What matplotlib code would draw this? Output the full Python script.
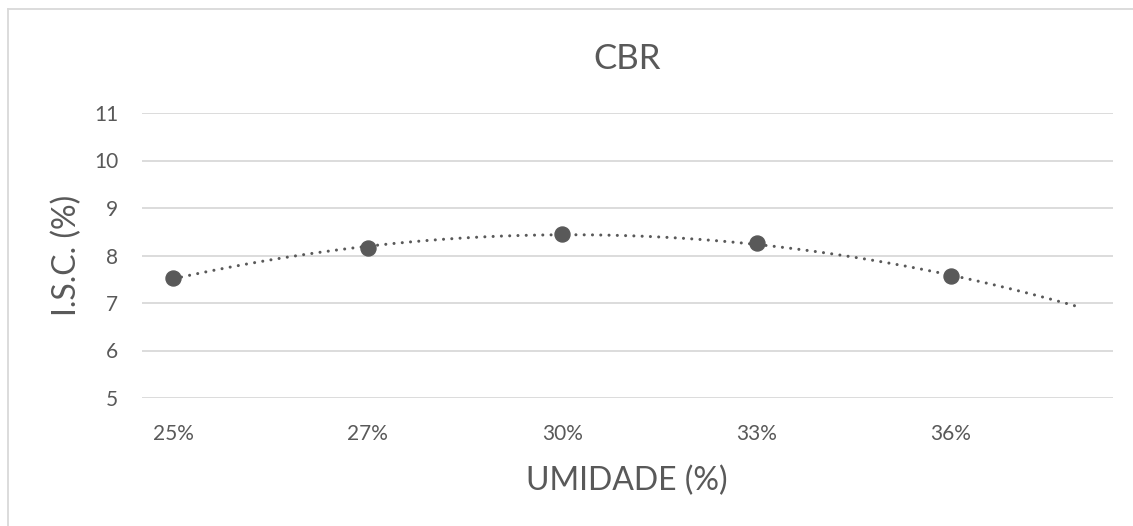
import numpy as np
import matplotlib
matplotlib.use("Agg")
import matplotlib.pyplot as plt
from matplotlib.lines import Line2D

# Data
categories = ["25%", "27%", "30%", "33%", "36%"]
isc_values = [7.53, 8.15, 8.45, 8.26, 7.57]
y_ticks = [5, 6, 7, 8, 9, 10, 11]

TEXT = "#595959"
GRID = "#d9d9d9"
MARK = "#595959"

plt.rcParams["font.family"] = ["Lato", "DejaVu Sans"]

W, H, DPI = 1133, 526, 100
fig = plt.figure(figsize=(W / DPI, H / DPI), dpi=DPI)
fig.patch.set_facecolor("white")

# chart frame (top and left edges)
fig.add_artist(Line2D([7.5 / W, 7.5 / W], [0, 1 - 8.5 / H], transform=fig.transFigure,
                      color=GRID, lw=1.3))
fig.add_artist(Line2D([7.5 / W, 1], [1 - 8.5 / H, 1 - 8.5 / H], transform=fig.transFigure,
                      color=GRID, lw=1.3))

left, right = 141.7 / W, 1112.7 / W
bottom, top = 1 - 398 / H, 1 - 113 / H
ax = fig.add_axes([left, bottom, right - left, top - bottom])

x = np.arange(1, len(categories) + 1)

# 2nd order polynomial trendline with forward forecast
coef = np.polyfit(x, isc_values, 2)
xt = np.linspace(1, 5.66, 200)
ax.plot(xt, np.polyval(coef, xt), color=MARK, lw=2.2,
        linestyle=(0, (0.01, 2.7)), dash_capstyle="round", zorder=2)

ax.plot(x, isc_values, linestyle="none", marker="o", markersize=10.8,
        color=MARK, zorder=3)

ax.set_xlim(0.837, 5.832)
ax.set_ylim(5, 11)
ax.set_yticks(y_ticks)
ax.set_xticks(x)
ax.set_xticklabels(categories)

ax.grid(axis="y", color=GRID, lw=1.3)
ax.set_axisbelow(True)
for s in ax.spines.values():
    s.set_visible(False)
ax.tick_params(axis="both", length=0, labelsize=15, labelcolor=TEXT)
ax.tick_params(axis="x", pad=19)
ax.tick_params(axis="y", pad=17)

ax.set_title("CBR", fontsize=25, color=TEXT, pad=32)
ax.set_xlabel("UMIDADE (%)", fontsize=23, color=TEXT)
ax.set_ylabel("I.S.C. (%)", fontsize=23, color=TEXT)
ax.yaxis.set_label_coords(-0.0615, 0.5)
ax.xaxis.set_label_coords(0.5, -0.2386)

fig.savefig("out.png", dpi=DPI, facecolor="white")
